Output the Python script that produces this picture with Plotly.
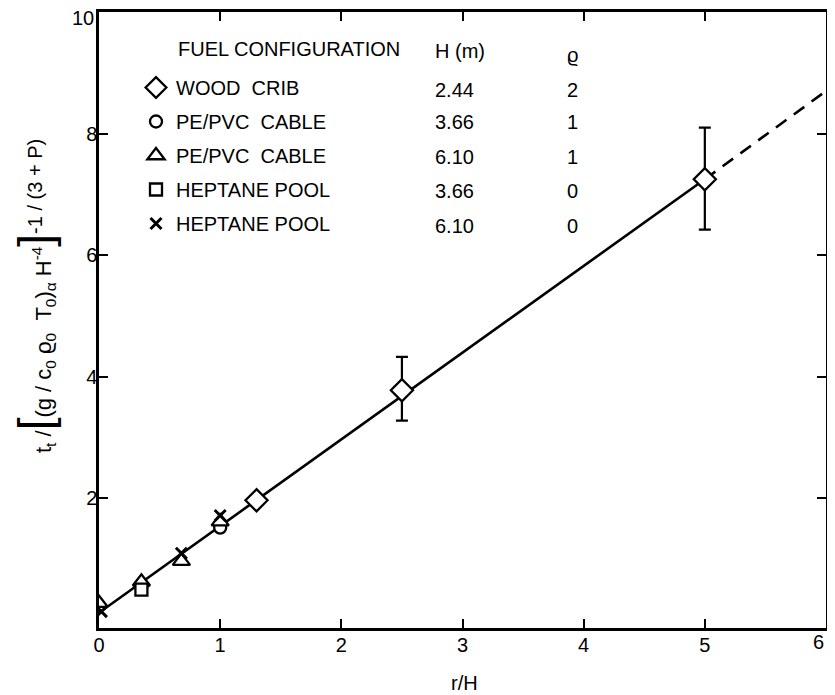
import plotly.graph_objects as go

# ---- data ----
wood_x = [1.3, 2.5, 5.0]
wood_y = [1.97, 3.78, 7.25]
wood_err_x = [2.5, 5.0]
wood_err_y = [3.78, 7.25]
wood_err_plus = [0.55, 0.85]
wood_err_minus = [0.50, 0.83]

pe366_x = [0.35, 1.0]
pe366_y = [0.55, 1.52]

pe610_x = [0.0, 0.35, 0.68, 1.0]
pe610_y = [0.28, 0.63, 0.97, 1.62]

hep366_x = [0.35]
hep366_y = [0.50]

hep610_x = [0.02, 0.68, 1.0]
hep610_y = [0.14, 1.10, 1.72]

fit_solid_x = [0.0, 5.0]
fit_solid_y = [0.12, 7.25]
fit_dash_x = [5.0, 6.0]
fit_dash_y = [7.25, 8.70]

names = ["WOOD&nbsp;&nbsp;CRIB", "PE/PVC&nbsp;&nbsp;CABLE", "PE/PVC&nbsp;&nbsp;CABLE",
         "HEPTANE POOL", "HEPTANE POOL"]
heights = ["2.44", "3.66", "6.10", "3.66", "6.10"]
rhos = ["2", "1", "1", "0", "0"]

x_ticks = [0, 1, 2, 3, 4, 5, 6]
x_ticklabels = ["0", "1", "2", "3", "4", "5", ""]  # "6" drawn as text below (edge)
x_last_label = "6"
y_ticks = [2, 4, 6, 8, 10]
y_ticklabels = ["2", "4", "6", "8", ""]   # "10" drawn as text below (edge)
y_top_label = "10"

FONT = "Liberation Sans, Arial, Helvetica, sans-serif"
OFF = 8  # page body margin
W, H = 819, 687
L, R, T, B = 91, 1, 4, 67
PW, PH = W - L - R, H - T - B


def px(xp):
    return (xp - OFF - L) / PW


def py(yp):
    return (H - B - (yp - OFF)) / PH


fig = go.Figure()

fig.add_trace(go.Scatter(x=fit_solid_x, y=fit_solid_y, mode="lines",
                         line=dict(color="black", width=2.6), showlegend=False))
fig.add_trace(go.Scatter(x=fit_dash_x, y=fit_dash_y, mode="lines",
                         line=dict(color="black", width=2.6, dash="13px,9px"), showlegend=False))
fig.add_trace(go.Scatter(x=wood_err_x, y=wood_err_y, mode="markers",
                         marker=dict(size=1, color="rgba(0,0,0,0)"),
                         error_y=dict(type="data", array=wood_err_plus, arrayminus=wood_err_minus,
                                      color="black", thickness=2.2, width=6),
                         showlegend=False))

series = [
    (wood_x, wood_y, "diamond", 17, "white"),
    (pe366_x, pe366_y, "circle", 12, "white"),
    (pe610_x, pe610_y, "triangle-up", 15, "white"),
    (hep366_x, hep366_y, "square", 12, "white"),
    (hep610_x, hep610_y, "x-thin", 11, "black"),
]
for i, (xs, ys, sym, sz, fill) in enumerate(series):
    line = dict(color="black", width=2.3)
    if sym == "x-thin":
        line = dict(color="black", width=3)
    fig.add_trace(go.Scatter(x=xs, y=ys, mode="markers", name=names[i],
                             legendgroup=f"g{i}",
                             marker=dict(symbol=sym, size=sz, color=fill, line=line)))

FS = 20
ann = []
ann.append(dict(x=px(176), y=py(49), xref="paper", yref="paper", text="FUEL CONFIGURATION",
                showarrow=False, xanchor="left", yanchor="middle", font=dict(size=FS)))
ann.append(dict(x=px(433), y=py(51), xref="paper", yref="paper", text="H (m)",
                showarrow=False, xanchor="left", yanchor="middle", font=dict(size=FS)))
ann.append(dict(x=px(572), y=py(55), xref="paper", yref="paper", text="ϱ",
                showarrow=False, xanchor="center", yanchor="middle", font=dict(size=FS)))
row_y = [90, 122, 157, 191, 226]
for hv, rv, ry in zip(heights, rhos, row_y):
    ann.append(dict(x=px(433), y=py(ry), xref="paper", yref="paper", text=hv,
                    showarrow=False, xanchor="left", yanchor="middle", font=dict(size=FS)))
    ann.append(dict(x=px(572), y=py(ry), xref="paper", yref="paper", text=rv,
                    showarrow=False, xanchor="center", yanchor="middle", font=dict(size=FS)))

ann.append(dict(x=px(96), y=py(18), xref="paper", yref="paper", text=y_top_label,
                showarrow=False, xanchor="right", yanchor="middle", font=dict(size=FS)))
ann.append(dict(x=px(826), y=py(642), xref="paper", yref="paper", text=x_last_label,
                showarrow=False, xanchor="right", yanchor="middle", font=dict(size=FS)))

BR = "<span style='font-size:46px'>%s</span>"
ytitle = ("t<sub>t</sub>&nbsp;/" + BR % "[" +
          "(g&nbsp;/&nbsp;c<sub>0</sub>&nbsp;ϱ<sub>0</sub>&nbsp;&nbsp;T<sub>0</sub>)<sub>α</sub>"
          "&nbsp;H<sup>-4</sup>" +
          BR % "]" +
          "<sup><span style='font-size:20px'>-1&nbsp;/&nbsp;(3&nbsp;+&nbsp;P)</span></sup>")
ann.append(dict(x=px(35), y=py(296), xref="paper", yref="paper", text=ytitle, textangle=-90,
                showarrow=False, xanchor="center", yanchor="middle", font=dict(size=22)))
ann.append(dict(x=px(464), y=py(683), xref="paper", yref="paper", text="r/H",
                showarrow=False, xanchor="center", yanchor="middle", font=dict(size=FS)))

axis_common = dict(showgrid=False, zeroline=False, showline=True, linecolor="black", linewidth=2.5,
                   ticks="inside", ticklen=9, tickwidth=2, tickcolor="black", mirror="ticks",
                   ticklabeloverflow="allow", automargin=False,
                   tickfont=dict(size=FS, color="black", family=FONT))

fig.update_layout(
    width=W, height=H,
    margin=dict(l=L, r=R, t=T, b=B, autoexpand=False),
    plot_bgcolor="white", paper_bgcolor="white",
    font=dict(family=FONT, color="black", size=FS),
    xaxis=dict(range=[0, 6], tickvals=x_ticks, ticktext=x_ticklabels,
               ticklabelstandoff=-3, **axis_common),
    yaxis=dict(range=[-0.13, 10], tickvals=y_ticks, ticktext=y_ticklabels,
               ticklabelstandoff=-5, **axis_common),
    legend=dict(x=px(136), y=py(68), xanchor="left", yanchor="top", bgcolor="rgba(0,0,0,0)",
                font=dict(size=FS, family=FONT), tracegroupgap=5, itemsizing="trace",
                traceorder="grouped"),
    annotations=ann,
)

fig.write_html("out.html")
